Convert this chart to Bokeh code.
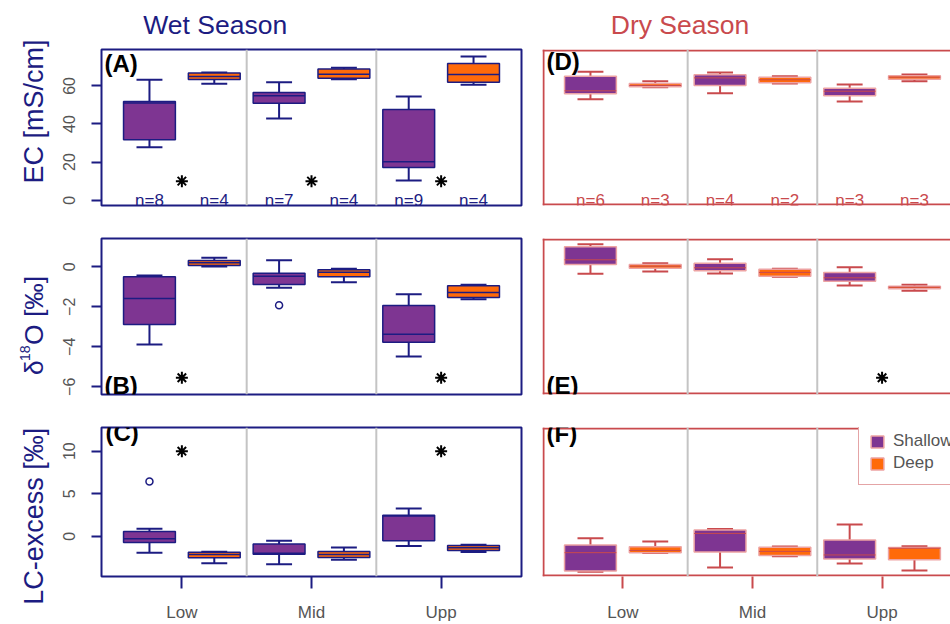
import math
from bokeh.plotting import figure
from bokeh.layouts import column, row
from bokeh.models import Range1d, FixedTicker, Span, Label, Legend, LegendItem, ColumnDataSource
from bokeh.embed import file_html
from bokeh.resources import INLINE
from bokeh.core.properties import value

# ---------------- data ----------------
groups = ["Low", "Mid", "Upp"]
depths = ["Shallow", "Deep"]
seasons = ["Wet Season", "Dry Season"]

# five-number summaries per group: (lower whisker, Q1, median, Q3, upper whisker)
ec_wet_shallow = [(27.8, 31.7, 51.0, 51.8, 63.2), (42.9, 50.9, 54.8, 56.5, 61.9), (10.3, 17.2, 20.2, 47.6, 54.4)]
ec_wet_deep = [(61.1, 63.4, 64.9, 66.7, 67.0), (63.5, 64.0, 66.1, 68.8, 69.5), (60.6, 61.9, 66.0, 71.8, 75.4)]
ec_dry_shallow = [(53.0, 55.9, 57.4, 65.1, 67.4), (56.2, 60.2, 64.2, 65.8, 67.0), (51.8, 54.8, 57.2, 58.8, 60.7)]
ec_dry_deep = [(59.3, 59.5, 60.2, 61.3, 62.5), (61.3, 61.6, 63.2, 64.6, 65.0), (62.5, 63.5, 64.6, 65.3, 66.0)]

d18o_wet_shallow = [(-3.88, -2.88, -1.58, -0.50, -0.43), (-1.05, -0.88, -0.47, -0.32, 0.33), (-4.48, -3.77, -3.37, -1.93, -1.37)]
d18o_wet_deep = [(0.02, 0.07, 0.20, 0.32, 0.45), (-0.77, -0.50, -0.27, -0.15, -0.10), (-1.62, -1.53, -1.28, -0.95, -0.90)]
d18o_dry_shallow = [(-0.35, 0.12, 0.35, 1.00, 1.13), (-0.33, -0.20, -0.05, 0.18, 0.38), (-0.93, -0.72, -0.55, -0.28, -0.02)]
d18o_dry_deep = [(-0.23, -0.07, 0.03, 0.12, 0.18), (-0.50, -0.47, -0.28, -0.12, -0.10), (-1.20, -1.10, -1.02, -0.97, -0.90)]

lc_wet_shallow = [(-1.92, -0.72, -0.30, 0.56, 0.90), (-3.27, -2.10, -2.00, -0.90, -0.53), (-1.13, -0.53, 2.40, 2.48, 3.27)]
lc_wet_deep = [(-3.16, -2.52, -2.14, -1.88, -1.80), (-2.75, -2.48, -2.14, -1.77, -1.32), (-1.85, -1.66, -1.35, -1.09, -0.98)]
lc_dry_shallow = [(-4.17, -4.06, -1.92, -1.01, -0.23), (-3.65, -1.85, 0.34, 0.74, 0.86), (-3.20, -2.67, -2.19, -0.42, 1.39)]
lc_dry_deep = [(-1.95, -1.92, -1.66, -1.24, -0.61), (-2.33, -2.25, -1.77, -1.28, -1.21), (-4.02, -2.75, -1.40, -1.32, -1.17)]

# outliers (group, value)
d18o_wet_shallow_out_grp = ["Mid"]
d18o_wet_shallow_out_val = [-1.92]
lc_wet_shallow_out_grp = ["Low"]
lc_wet_shallow_out_val = [6.43]

# sample sizes
n_wet_shallow = [8, 7, 9]
n_wet_deep = [4, 4, 4]
n_dry_shallow = [6, 4, 3]
n_dry_deep = [3, 2, 3]

# significance asterisks (groups, y value)
ec_wet_sig = ["Low", "Mid", "Upp"]
ec_sig_y = 10
d18o_wet_sig = ["Low", "Upp"]
d18o_dry_sig = ["Upp"]
d18o_sig_y = -5.55
lc_wet_sig = ["Low", "Upp"]
lc_sig_y = 10

ec_yticks = [0, 20, 40, 60]
d18o_yticks = [-6, -4, -2, 0]
lc_yticks = [0, 5, 10]

# ---------------- style ----------------
WET = "#1c1c82"
DRY = "#c94a4d"
PURPLE = "#7e3592"
ORANGE = "#ff6a0a"
DRY_BOX_LINE = "#eda3a3"
GRAY_TXT = "#555555"
DIVIDER = "#c4c4c4"
FONT = "Liberation Sans"
X_OFF = {"Shallow": -0.25, "Deep": 0.25}
BOX_W = 0.4

LAB_W = 55           # width of the y-label strip
TITLE_H = 41         # height of the season-title strip
ROW_TOP = [8, 17, 17]
ROW_BOT = [16, 16, 42]
FRAME_H = [156, 156, 155]
LEFT_FRAME_W = 420
RIGHT_FRAME_W = 408
LEFT_BORDER = 46
GAP = 21
XR_LEFT = (0.38, 3.62)
XR_RIGHT = (0.38, 3.528)


def gx(g, depth=None):
    return groups.index(g) + 1 + (X_OFF[depth] if depth else 0)


def blank_fig(w, h, xr, yr):
    f = figure(width=w, height=h, x_range=Range1d(*xr), y_range=Range1d(*yr),
               x_axis_location=None, y_axis_location=None, toolbar_location=None,
               output_backend="svg", min_border=0)
    f.grid.visible = False
    f.outline_line_color = None
    f.background_fill_color = "white"
    f.border_fill_color = "white"
    return f


def make_fig(ri, ci, yr, yticks):
    left = ci == 0
    season_col = WET if left else DRY
    fw = LEFT_FRAME_W if left else RIGHT_FRAME_W
    p = figure(width=(LEFT_BORDER + fw + GAP) if left else fw,
               height=ROW_TOP[ri] + FRAME_H[ri] + ROW_BOT[ri],
               x_range=Range1d(*(XR_LEFT if left else XR_RIGHT)),
               y_range=Range1d(*yr),
               x_axis_location="below" if ri == 2 else None,
               y_axis_location="left" if left else None,
               toolbar_location=None, output_backend="svg",
               min_border_left=LEFT_BORDER if left else 0, min_border_right=GAP if left else 0,
               min_border_top=ROW_TOP[ri], min_border_bottom=ROW_BOT[ri])
    p.grid.visible = False
    p.background_fill_color = "white"
    p.border_fill_color = "white"
    if left:
        p.outline_line_color = WET
        p.outline_line_width = 2
        p.yaxis.ticker = FixedTicker(ticks=yticks)
        p.yaxis.axis_line_color = None
        p.yaxis.major_tick_line_color = WET
        p.yaxis.major_tick_line_width = 2
        p.yaxis.major_tick_out = 10
        p.yaxis.major_tick_in = 0
        p.yaxis.minor_tick_line_color = None
        p.yaxis.major_label_orientation = "vertical"
        p.yaxis.major_label_text_font = FONT
        p.yaxis.major_label_text_font_size = "16px"
        p.yaxis.major_label_text_color = GRAY_TXT
        p.yaxis.major_label_standoff = 16
    else:
        # frame drawn on left, top and bottom only (right edge falls outside the page)
        p.outline_line_color = None
        dx = (XR_RIGHT[1] - XR_RIGHT[0]) / fw
        dy = (yr[1] - yr[0]) / FRAME_H[ri]
        p.add_layout(Span(location=XR_RIGHT[0] + dx, dimension="height", line_color=DRY, line_width=2))
        p.add_layout(Span(location=yr[0] + dy, dimension="width", line_color=DRY, line_width=2))
        p.add_layout(Span(location=yr[1] - dy, dimension="width", line_color=DRY, line_width=2))
    if ri == 2:
        p.xaxis.ticker = FixedTicker(ticks=[i + 1 for i in range(len(groups))])
        p.xaxis.major_label_overrides = {i + 1: g for i, g in enumerate(groups)}
        p.xaxis.axis_line_color = None
        p.xaxis.major_tick_line_color = season_col
        p.xaxis.major_tick_line_width = 2
        p.xaxis.major_tick_out = 12
        p.xaxis.major_tick_in = 0
        p.xaxis.minor_tick_line_color = None
        p.xaxis.major_label_text_font = FONT
        p.xaxis.major_label_text_font_size = "17px"
        p.xaxis.major_label_text_color = GRAY_TXT
        p.xaxis.major_label_standoff = 14
    for i in range(len(groups) - 1):
        p.add_layout(Span(location=i + 1.5, dimension="height", line_color=DIVIDER, line_width=2))
    return p


def add_boxes(p, stats, depth, season):
    xs = [gx(g, depth) for g in groups]
    lo, q1, med, q3, hi = (list(v) for v in zip(*stats))
    half, cap = BOX_W / 2, BOX_W / 4
    src = ColumnDataSource(dict(x=xs, lo=lo, q1=q1, med=med, q3=q3, hi=hi,
                                bl=[x - half for x in xs], br=[x + half for x in xs],
                                cl=[x - cap for x in xs], cr=[x + cap for x in xs]))
    wcol = WET if season == "wet" else DRY
    box_line = WET if season == "wet" else DRY_BOX_LINE
    fill = PURPLE if depth == "Shallow" else ORANGE
    p.segment(x0="x", y0="lo", x1="x", y1="q1", source=src, line_color=wcol, line_width=2)
    p.segment(x0="x", y0="q3", x1="x", y1="hi", source=src, line_color=wcol, line_width=2)
    p.segment(x0="cl", y0="lo", x1="cr", y1="lo", source=src, line_color=wcol, line_width=2)
    p.segment(x0="cl", y0="hi", x1="cr", y1="hi", source=src, line_color=wcol, line_width=2)
    r = p.vbar(x="x", width=BOX_W, bottom="q1", top="q3", source=src,
               fill_color=fill, line_color=box_line, line_width=1.5)
    p.segment(x0="bl", y0="med", x1="br", y1="med", source=src, line_color=wcol,
              line_width=1.5 if season == "wet" else 1)
    return r


def add_stars(p, sig_groups, y):
    p.scatter(x=[gx(g) for g in sig_groups], y=[y] * len(sig_groups), marker="asterisk",
              size=12, line_color="black", line_width=2)


def add_outliers(p, grps, vals, depth):
    p.scatter(x=[gx(g, depth) for g in grps], y=vals, marker="circle", size=7,
              fill_color=None, line_color=WET, line_width=1.5)


def add_n(p, ns, depth, col):
    p.text(x=[gx(g, depth) for g in groups], y=[0] * len(groups), text=[f"n={n}" for n in ns],
           text_align="center", text_baseline="middle", text_color=col,
           text_font=value(FONT), text_font_size="17px")


def panel_label(p, txt, x, y, baseline):
    p.add_layout(Label(x=x, y=y, x_units="screen", y_units="screen", text=txt,
                       text_font=FONT, text_font_style="bold", text_font_size="24px",
                       text_color="black", text_align="left", text_baseline=baseline))


EC_R = (-2.78, 79.1)
D18O_R = (-6.385, 1.415)
LC_R = (-4.72, 12.78)

# ----- EC -----
pA = make_fig(0, 0, EC_R, ec_yticks)
add_boxes(pA, ec_wet_shallow, "Shallow", "wet")
add_boxes(pA, ec_wet_deep, "Deep", "wet")
add_stars(pA, ec_wet_sig, ec_sig_y)
add_n(pA, n_wet_shallow, "Shallow", WET)
add_n(pA, n_wet_deep, "Deep", WET)
panel_label(pA, "(A)", 3, FRAME_H[0], "top")

pD = make_fig(0, 1, EC_R, ec_yticks)
add_boxes(pD, ec_dry_shallow, "Shallow", "dry")
add_boxes(pD, ec_dry_deep, "Deep", "dry")
add_n(pD, n_dry_shallow, "Shallow", DRY)
add_n(pD, n_dry_deep, "Deep", DRY)
panel_label(pD, "(D)", 4, FRAME_H[0] + 1.5, "top")

# ----- d18O -----
pB = make_fig(1, 0, D18O_R, d18o_yticks)
add_boxes(pB, d18o_wet_shallow, "Shallow", "wet")
add_boxes(pB, d18o_wet_deep, "Deep", "wet")
add_outliers(pB, d18o_wet_shallow_out_grp, d18o_wet_shallow_out_val, "Shallow")
add_stars(pB, d18o_wet_sig, d18o_sig_y)
panel_label(pB, "(B)", 3, 9, "alphabetic")

pE = make_fig(1, 1, D18O_R, d18o_yticks)
add_boxes(pE, d18o_dry_shallow, "Shallow", "dry")
add_boxes(pE, d18o_dry_deep, "Deep", "dry")
add_stars(pE, d18o_dry_sig, d18o_sig_y)
panel_label(pE, "(E)", 4, 9, "alphabetic")

# ----- LC-excess -----
pC = make_fig(2, 0, LC_R, lc_yticks)
add_boxes(pC, lc_wet_shallow, "Shallow", "wet")
add_boxes(pC, lc_wet_deep, "Deep", "wet")
add_outliers(pC, lc_wet_shallow_out_grp, lc_wet_shallow_out_val, "Shallow")
add_stars(pC, lc_wet_sig, lc_sig_y)
panel_label(pC, "(C)", 4, FRAME_H[2] + 3, "top")

pF = make_fig(2, 1, LC_R, lc_yticks)
r_sh = add_boxes(pF, lc_dry_shallow, "Shallow", "dry")
r_dp = add_boxes(pF, lc_dry_deep, "Deep", "dry")
panel_label(pF, "(F)", 4, FRAME_H[2] + 1.2, "top")
legend = Legend(items=[LegendItem(label=depths[0], renderers=[r_sh]),
                       LegendItem(label=depths[1], renderers=[r_dp])],
                location=(316, 91), border_line_color=DRY, border_line_width=1.5,
                background_fill_color="white", background_fill_alpha=1.0,
                label_text_font=FONT, label_text_font_size="17px", label_text_color=GRAY_TXT,
                glyph_width=16, glyph_height=15, label_height=22, spacing=0, padding=10,
                label_standoff=8, margin=0)
pF.add_layout(legend)

# ----- season titles strip (x in page pixels from LAB_W to page right, y downward) -----
page_w = LAB_W + LEFT_BORDER + LEFT_FRAME_W + GAP + RIGHT_FRAME_W
tfig = blank_fig(page_w - LAB_W, TITLE_H, (LAB_W, page_w), (TITLE_H, 0))
tfig.text(x=[214.7], y=[24.0], text=[seasons[0]], text_align="center", text_baseline="middle",
          text_color=WET, text_font=value(FONT), text_font_size="26.5px")
tfig.text(x=[679.5], y=[24.0], text=[seasons[1]], text_align="center", text_baseline="middle",
          text_color=DRY, text_font=value(FONT), text_font_size="26.5px")

# ----- y-label strip (y in page pixels measured upward from the page bottom) -----
page_h = TITLE_H + sum(ROW_TOP) + sum(FRAME_H) + sum(ROW_BOT)
lfig = blank_fig(LAB_W, page_h, (0, LAB_W), (0, page_h))
ang = math.pi / 2
lfig.text(x=[33.9], y=[page_h - 111], text=["EC [mS/cm]"], angle=ang, text_align="center",
          text_baseline="middle", text_color=WET, text_font=value(FONT), text_font_size="27px")
lfig.text(x=[33.4], y=[page_h - 374.5], text=["\u03b4"], angle=ang, text_align="left",
          text_baseline="middle", text_color=WET, text_font=value(FONT), text_font_size="26.5px")
lfig.text(x=[24.5], y=[page_h - 360.5], text=["18"], angle=ang, text_align="left",
          text_baseline="middle", text_color=WET, text_font=value(FONT), text_font_size="14px")
lfig.text(x=[33.4], y=[page_h - 344.5], text=["O [\u2030]"], angle=ang, text_align="left",
          text_baseline="middle", text_color=WET, text_font=value(FONT), text_font_size="26.5px")
lfig.text(x=[33.3], y=[page_h - 515.8], text=["LC-excess [\u2030]"], angle=ang, text_align="center",
          text_baseline="middle", text_color=WET, text_font=value(FONT), text_font_size="27px")

body = column(tfig, row(pA, pD), row(pB, pE), row(pC, pF))
layout = row(lfig, body)
open("out.html", "w").write(file_html(layout, INLINE))
